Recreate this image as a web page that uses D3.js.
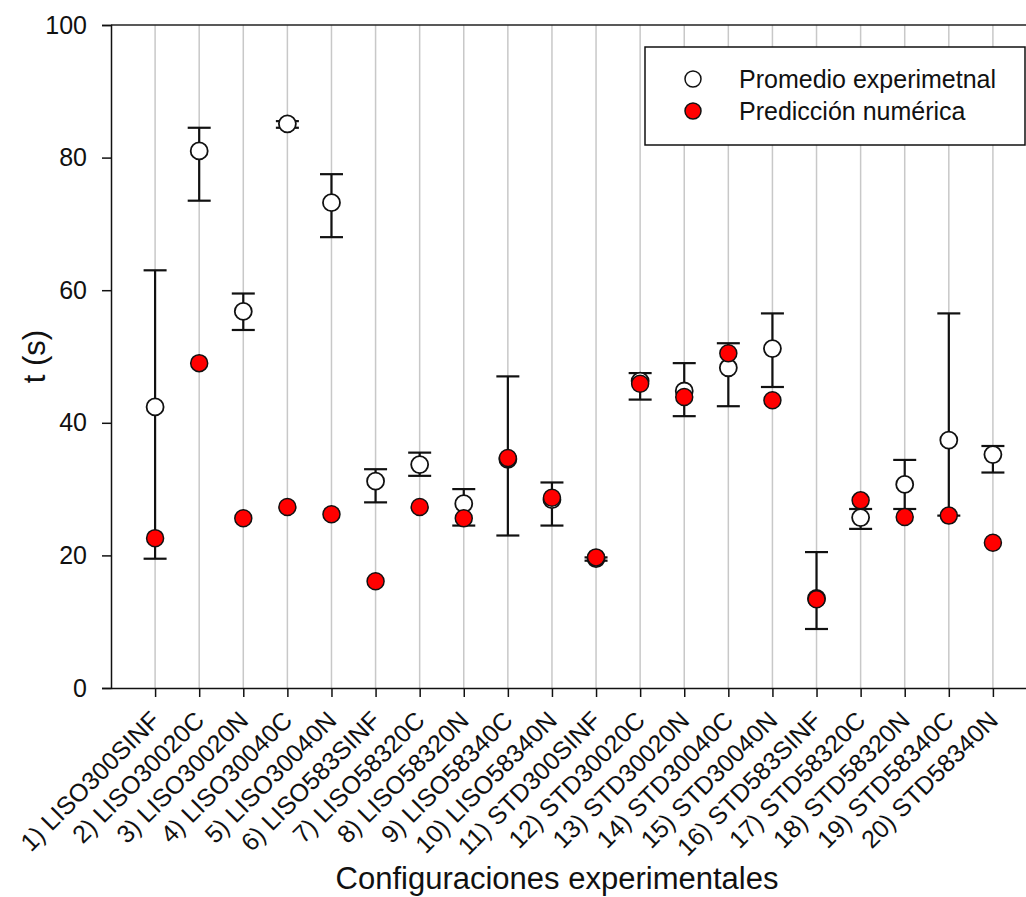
<!DOCTYPE html>
<html>
<head>
<meta charset="utf-8">
<script src="https://cdn.jsdelivr.net/npm/d3@7"></script>
<style>
  html, body { margin: 0; padding: 0; background: #fff; }
  svg { display: block; font-family: Arial, "Liberation Sans", sans-serif; }
</style>
</head>
<body>
<svg id="chart" width="1026" height="897"></svg>
<script>
// Configuration names along the x axis
const categories = [
  "1) LISO300SINF", "2) LISO30020C", "3) LISO30020N", "4) LISO30040C", "5) LISO30040N",
  "6) LISO583SINF", "7) LISO58320C", "8) LISO58320N", "9) LISO58340C", "10) LISO58340N",
  "11) STD300SINF", "12) STD30020C", "13) STD30020N", "14) STD30040C", "15) STD30040N",
  "16) STD583SINF", "17) STD58320C", "18) STD58320N", "19) STD58340C", "20) STD58340N"
];

// Experimental mean time (s) and its error range
const expMean = [42.4, 81.0, 56.8, 85.1, 73.2, 31.2, 33.7, 27.8, 34.5, 28.4,
                 19.5, 46.3, 44.8, 48.3, 51.2, 13.5, 25.7, 30.7, 37.4, 35.2];
const expHigh = [63.0, 84.5, 59.5, 85.5, 77.5, 33.0, 35.5, 30.0, 47.0, 31.0,
                 19.7, 47.5, 49.0, 52.0, 56.5, 20.5, 27.0, 34.4, 56.5, 36.5];
const expLow  = [19.5, 73.5, 54.0, 84.5, 68.0, 28.0, 32.0, 24.5, 23.0, 24.5,
                 19.2, 43.5, 41.0, 42.5, 45.4,  8.9, 24.0, 27.0, 26.0, 32.5];

// Numerical prediction (s)
const numPred = [22.6, 49.0, 25.6, 27.3, 26.2, 16.1, 27.3, 25.6, 34.7, 28.7,
                 19.7, 45.9, 43.9, 50.5, 43.4, 13.4, 28.3, 25.8, 26.0, 21.9];

const yTicks = [0, 20, 40, 60, 80, 100];

const seriesNames = ["Promedio experimetnal", "Predicción numérica"];

const svg = d3.select("#chart");
const plotLeft = 111, plotRight = 1037, plotTop = 25, plotBottom = 688;
const fontStack = "Arial, 'Liberation Sans', sans-serif";

// Category positions: index 1..20 within a 0..21 span
const x = d3.scaleLinear().domain([0, categories.length + 1]).range([plotLeft, plotRight]);
const y = d3.scaleLinear().domain([0, 100]).range([plotBottom, plotTop]);

const rows = categories.map((c, i) => ({
  name: c, pos: i + 1, mean: expMean[i], hi: expHigh[i], lo: expLow[i], pred: numPred[i]
}));

// Vertical grid lines at each configuration
svg.append("g").selectAll("line").data(rows).join("line")
  .attr("x1", d => x(d.pos)).attr("x2", d => x(d.pos))
  .attr("y1", y(100)).attr("y2", y(0))
  .attr("stroke", "#c8c8c8").attr("stroke-width", 1.5);

// Top frame line
svg.append("line")
  .attr("x1", plotLeft).attr("x2", plotRight).attr("y1", y(100)).attr("y2", y(100))
  .attr("stroke", "#222").attr("stroke-width", 1.5);

// Y axis
const yAxis = svg.append("g")
  .attr("transform", `translate(${plotLeft},0)`)
  .call(d3.axisLeft(y).tickValues(yTicks).tickSize(9).tickPadding(15).tickFormat(d3.format("d")));
yAxis.select(".domain").attr("stroke", "#111").attr("stroke-width", 1.5);
yAxis.selectAll(".tick line").attr("stroke", "#111").attr("stroke-width", 1.5);
yAxis.selectAll(".tick text").attr("font-size", 25).attr("fill", "#111")
  .attr("font-family", fontStack);

// X axis with rotated category labels
const xAxis = svg.append("g")
  .attr("transform", `translate(0,${plotBottom})`)
  .call(d3.axisBottom(x).tickValues(rows.map(d => d.pos)).tickSize(9).tickSizeOuter(0)
    .tickFormat(v => categories[v - 1]));
xAxis.select(".domain").attr("stroke", "#111").attr("stroke-width", 1.5);
xAxis.selectAll(".tick line").attr("stroke", "#111").attr("stroke-width", 1.5);
xAxis.selectAll(".tick text")
  .attr("font-size", 25).attr("fill", "#111")
  .attr("font-family", fontStack)
  .attr("text-anchor", "end")
  .attr("dy", null).attr("y", 0)
  .attr("transform", "translate(6,34) rotate(-45)");

// Axis titles
svg.append("text")
  .attr("x", 557).attr("y", 889)
  .attr("text-anchor", "middle").attr("font-size", 31).attr("fill", "#111")
  .text("Configuraciones experimentales");
svg.append("text")
  .attr("transform", `translate(45,${(plotTop + plotBottom) / 2}) rotate(-90)`)
  .attr("text-anchor", "middle").attr("font-size", 31).attr("fill", "#111")
  .text("t (s)");

// Error bars
const capHalf = 11.5;
const eb = svg.append("g").attr("stroke", "#111").attr("stroke-width", 2.2).attr("fill", "none");
eb.selectAll("line.stem").data(rows).join("line").attr("class", "stem")
  .attr("x1", d => x(d.pos)).attr("x2", d => x(d.pos))
  .attr("y1", d => y(d.hi)).attr("y2", d => y(d.lo));
eb.selectAll("line.capHi").data(rows).join("line").attr("class", "capHi")
  .attr("x1", d => x(d.pos) - capHalf).attr("x2", d => x(d.pos) + capHalf)
  .attr("y1", d => y(d.hi)).attr("y2", d => y(d.hi));
eb.selectAll("line.capLo").data(rows).join("line").attr("class", "capLo")
  .attr("x1", d => x(d.pos) - capHalf).attr("x2", d => x(d.pos) + capHalf)
  .attr("y1", d => y(d.lo)).attr("y2", d => y(d.lo));

// Experimental means (open circles)
svg.append("g").selectAll("circle").data(rows).join("circle")
  .attr("cx", d => x(d.pos)).attr("cy", d => y(d.mean)).attr("r", 8.5)
  .attr("fill", "#fff").attr("stroke", "#111").attr("stroke-width", 1.8);

// Numerical predictions (red circles)
svg.append("g").selectAll("circle").data(rows).join("circle")
  .attr("cx", d => x(d.pos)).attr("cy", d => y(d.pred)).attr("r", 8.5)
  .attr("fill", "#ff0000").attr("stroke", "#111").attr("stroke-width", 1.5);

// Legend
const lg = svg.append("g");
lg.append("rect").attr("x", 645).attr("y", 47).attr("width", 380).attr("height", 98)
  .attr("fill", "#fff").attr("stroke", "#111").attr("stroke-width", 1.5);
const legendItems = [
  { name: seriesNames[0], fill: "#fff", cy: 79 },
  { name: seriesNames[1], fill: "#ff0000", cy: 111 }
];
lg.selectAll("circle").data(legendItems).join("circle")
  .attr("cx", 693).attr("cy", d => d.cy).attr("r", 8)
  .attr("fill", d => d.fill).attr("stroke", "#111").attr("stroke-width", 1.5);
lg.selectAll("text").data(legendItems).join("text")
  .attr("x", 739).attr("y", d => d.cy + 9)
  .attr("font-size", 25).attr("fill", "#111")
  .text(d => d.name);
</script>
</body>
</html>
